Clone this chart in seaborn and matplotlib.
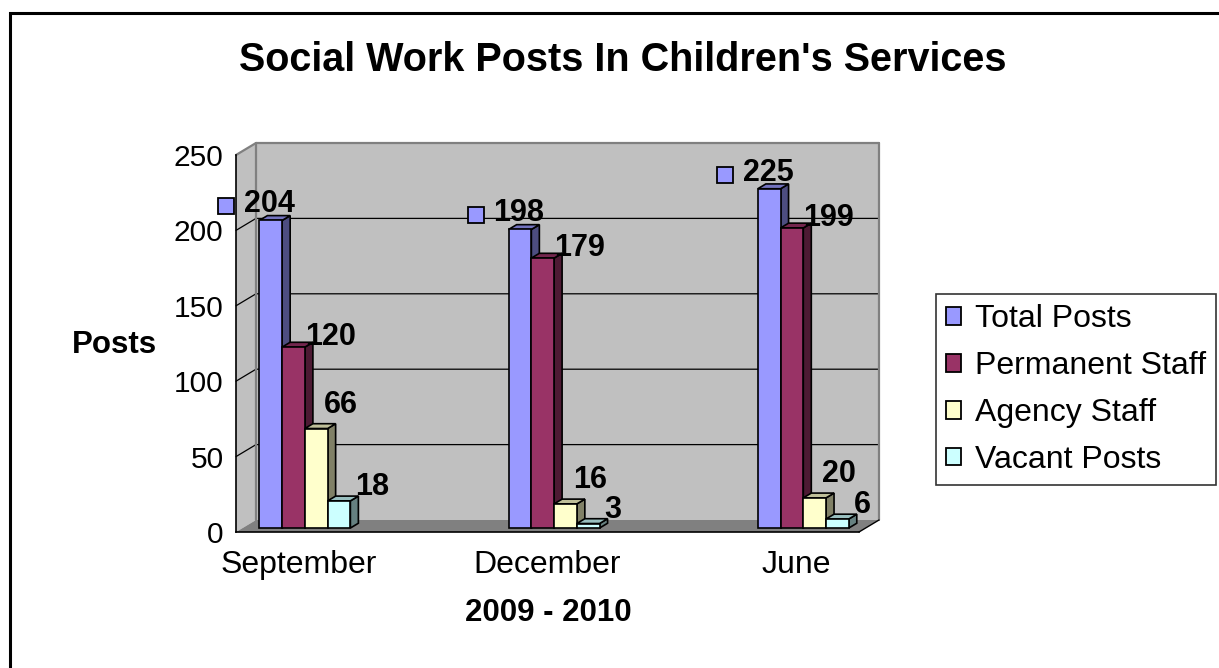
import matplotlib
matplotlib.use("Agg")
import matplotlib.pyplot as plt
import seaborn as sns
import pandas as pd
import numpy as np
from matplotlib.patches import Polygon, Rectangle, Patch
from matplotlib.lines import Line2D
from matplotlib.transforms import ScaledTranslation, IdentityTransform
from matplotlib.colors import to_rgb

# ---------------- data ----------------
months = ["September", "December", "June"]
series = ["Total Posts", "Permanent Staff", "Agency Staff", "Vacant Posts"]
total_posts = [204, 198, 225]
permanent_staff = [120, 179, 199]
agency_staff = [66, 16, 20]
vacant_posts = [18, 3, 6]
colors = ["#9999FF", "#993366", "#FFFFCC", "#CCFFFF"]
y_ticks = [0, 50, 100, 150, 200, 250]
title = "Social Work Posts In Children's Services"
x_title = "2009 - 2010"
y_title = "Posts"

# category slots (the Excel chart has empty slots between the months)
order = ["September", "_gap1", "December", "_gap2", "June"]

# label placement style (pixel offsets from the bar's drawn top-right corner)
label_offsets = {"Permanent Staff": (0, 10), "Agency Staff": (-4, 24), "Vacant Posts": (5, 14)}

rows = []
for s, vals in zip(series, [total_posts, permanent_staff, agency_staff, vacant_posts]):
    for m, v in zip(months, vals):
        rows.append({"month": m, "series": s, "value": v})
df = pd.DataFrame(rows)

# ---------------- figure ----------------
sns.set_style("white")
plt.rcParams["font.family"] = ["Liberation Sans", "DejaVu Sans"]
plt.rcParams.update({"text.color": "black", "axes.labelcolor": "black",
                     "xtick.color": "black", "ytick.color": "black"})

W, H, DPI = 1219, 668, 100
fig = plt.figure(figsize=(W / DPI, H / DPI), dpi=DPI)
fig.patch.set_facecolor("white")

ax = fig.add_axes([236 / W, (H - 532) / H, (859 - 236) / W, (532 - 155) / H])
ax.patch.set_visible(False)

sns.barplot(data=df, x="month", y="value", hue="series", order=order,
            hue_order=series, palette=colors, width=0.73, dodge=True,
            saturation=1, edgecolor="black", linewidth=1.2, legend=False,
            errorbar=None, ax=ax)

ax.set_xlim(-0.5, len(order) - 0.5)
ax.set_ylim(y_ticks[0], y_ticks[-1])

# 3D depth vector (pixels at full depth)
DEPTH = np.array([20.0, 12.0])
D_FRONT, D_BACK = 0.33, 0.73


def P(x, y, d):
    return ax.transData.transform((x, y)) + d * DEPTH


def poly(pts, fc, ec, lw, z):
    p = Polygon(np.array(pts), closed=True, facecolor=fc, edgecolor=ec,
                linewidth=lw, transform=IdentityTransform(), clip_on=False,
                zorder=z)
    ax.add_artist(p)
    return p


x0, x1 = ax.get_xlim()
y0, y1 = ax.get_ylim()
wall = "#C0C0C0"
edge_gray = "#808080"

# back wall and left side wall
poly([P(x0, y0, 1), P(x1, y0, 1), P(x1, y1, 1), P(x0, y1, 1)], wall, "none", 0, 0.2)
poly([P(x0, y0, 0), P(x0, y0, 1), P(x0, y1, 1), P(x0, y1, 0)], wall, "none", 0, 0.2)
# gridlines
for t in y_ticks[1:-1]:
    a, b, c = P(x0, t, 0), P(x0, t, 1), P(x1, t, 1)
    ax.add_line(Line2D([a[0], b[0], c[0]], [a[1], b[1], c[1]], color="black",
                       lw=0.9, transform=IdentityTransform(), clip_on=False, zorder=0.3))
# wall edges
for seg in [(P(x0, y1, 0), P(x0, y1, 1)), (P(x0, y1, 1), P(x1, y1, 1)),
            (P(x1, y1, 1), P(x1, y0, 1)), (P(x0, y1, 1), P(x0, y0, 1))]:
    ax.add_line(Line2D([seg[0][0], seg[1][0]], [seg[0][1], seg[1][1]], color=edge_gray,
                       lw=1.6, transform=IdentityTransform(), clip_on=False, zorder=0.35))
# floor
poly([P(x0, y0, 0), P(x1, y0, 0), P(x1, y0, 1), P(x0, y0, 1)], edge_gray, "none", 0, 0.4)
ax.add_line(Line2D(*zip(P(x1, y0, 0), P(x1, y0, 1)), color="black", lw=1,
                   transform=IdentityTransform(), clip_on=False, zorder=0.45))

# bars in 3D (seaborn draws the front faces; side/top faces follow them)
bars = sorted([p for p in ax.patches if isinstance(p, Rectangle) and p.get_height() > 0],
              key=lambda p: p.get_x())
front_off = ScaledTranslation(D_FRONT * DEPTH[0] / DPI, D_FRONT * DEPTH[1] / DPI,
                              fig.dpi_scale_trans)
for i, b in enumerate(bars):
    bx0, bw, bh = b.get_x(), b.get_width(), b.get_height()
    bx1 = bx0 + bw
    base = np.array(to_rgb(b.get_facecolor()))
    side_c = base * 0.5
    top_c = base * 0.75
    z = 2 + 3 * i
    poly([P(bx1, 0, D_FRONT), P(bx1, 0, D_BACK), P(bx1, bh, D_BACK), P(bx1, bh, D_FRONT)],
         side_c, "black", 1.2, z)
    poly([P(bx0, bh, D_FRONT), P(bx1, bh, D_FRONT), P(bx1, bh, D_BACK), P(bx0, bh, D_BACK)],
         top_c, "black", 1.2, z + 1)
    b.set_transform(ax.transData + front_off)
    b.set_zorder(z + 2)
    b.set_clip_on(False)

# value labels
px = 72.0 / DPI  # points per pixel
VAL_FS = 22
fx, fy = D_FRONT * DEPTH
hue_bars = {}
for b in bars:
    hue_bars.setdefault(tuple(np.round(to_rgb(b.get_facecolor()), 3)), []).append(b)
for s, col in zip(series, colors):
    key = tuple(np.round(to_rgb(col), 3))
    for b in sorted(hue_bars.get(key, []), key=lambda p: p.get_x()):
        v = b.get_height()
        if s == series[0]:
            ax.annotate(f"{v:.0f}", xy=(b.get_x(), v),
                        xytext=((fx - 15) * px, (fy + 16) * px),
                        textcoords="offset points", ha="left", va="center",
                        fontsize=VAL_FS, fontweight="bold", zorder=100, annotation_clip=False)
            ax.plot([b.get_x()], [v], marker="s", ms=11, mfc=col, mec="black", mew=1.3,
                    transform=ax.transData + ScaledTranslation(
                        (fx - 33) / DPI, (fy + 14) / DPI, fig.dpi_scale_trans),
                    clip_on=False, zorder=100)
        else:
            ox, oy = label_offsets[s]
            ax.annotate(f"{v:.0f}", xy=(b.get_x() + b.get_width(), v),
                        xytext=((fx + ox) * px, (fy + oy) * px),
                        textcoords="offset points", ha="left", va="center",
                        fontsize=VAL_FS, fontweight="bold", zorder=100, annotation_clip=False)

# axes styling
for sp in ["top", "right"]:
    ax.spines[sp].set_visible(False)
for sp in ["left", "bottom"]:
    ax.spines[sp].set_color("black")
    ax.spines[sp].set_linewidth(1.2)
    ax.spines[sp].set_zorder(0.5)

ax.set_yticks(y_ticks)
ax.set_yticklabels([str(t) for t in y_ticks], fontsize=21.5)
ax.tick_params(axis="y", direction="out", length=5, width=1, pad=4)
ax.set_xticks(np.arange(-0.5, len(order), 1.0))
ax.set_xticklabels([])
ax.tick_params(axis="x", which="major", direction="out", length=5, width=1)
ax.set_xticks([order.index(m) for m in months], minor=True)
ax.set_xticklabels(months, minor=True, fontsize=23)
ax.tick_params(axis="x", which="minor", length=0, pad=13)

ax.set_xlabel(x_title, fontsize=22.5, fontweight="bold")
ax.xaxis.set_label_coords((548 - 236) / (859 - 236), (532 - 613) / (532 - 155))
ax.xaxis.label.set_va("center")
ax.set_ylabel(y_title, fontsize=22.5, fontweight="bold", rotation=0, ha="center", va="center")
ax.yaxis.set_label_coords((114 - 236) / (859 - 236), (532 - 345) / (532 - 155))

fig.text(623 / W, 1 - 60 / H, title, ha="center", va="center", fontsize=28.5, fontweight="bold")

# legend
handles = [Patch(facecolor=c, edgecolor="black", linewidth=1.3, label=s) for s, c in zip(series, colors)]
leg = fig.legend(handles=handles, loc="upper left", bbox_to_anchor=(936 / W, 1 - 294 / H),
                 frameon=True, fancybox=False, edgecolor="black", fontsize=23,
                 handlelength=0.47, handleheight=0.47, handletextpad=0.42,
                 labelspacing=0.53, borderpad=0.32, borderaxespad=0)
leg.get_frame().set_linewidth(1.2)

# outer chart border
fig.add_artist(Rectangle((9.5 / W, -0.05), 1.2, (H - 12.5) / H + 0.05, transform=fig.transFigure,
                         fill=False, edgecolor="black", linewidth=2.2))

fig.savefig("out.png", dpi=DPI)
